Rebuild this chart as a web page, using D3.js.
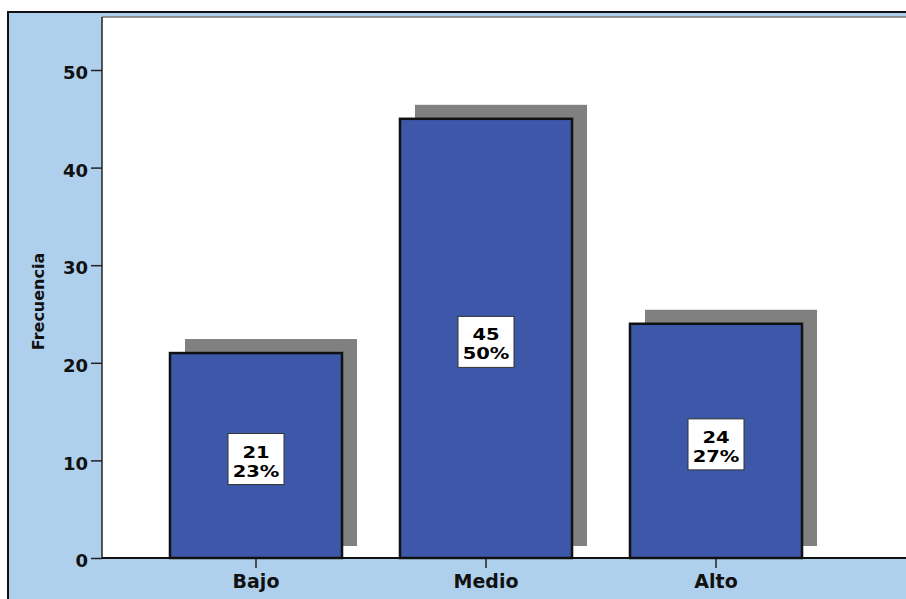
<!DOCTYPE html>
<html>
<head>
<meta charset="utf-8">
<script src="https://cdn.jsdelivr.net/npm/d3@7"></script>
<style>
  html, body { margin: 0; padding: 0; background: #ffffff; }
  svg { display: block; font-family: "DejaVu Sans", sans-serif; }
</style>
</head>
<body>
<div id="chart"></div>
<script>
const categories = ["Bajo", "Medio", "Alto"];
const counts = [21, 45, 24];
const percents = ["23%", "50%", "27%"];
const yTicks = [0, 10, 20, 30, 40, 50];
const yLabel = "Frecuencia";

(function () {
    const W = 906, H = 599;
    const plot = { left: 102, top: 17, bottom: 558 };
    const font = "'DejaVu Sans', sans-serif";

    const svg = d3.select("#chart")
        .append("svg")
        .attr("width", W)
        .attr("height", H);

    // outer light blue frame
    svg.append("rect")
        .attr("x", 8).attr("y", 12)
        .attr("width", W).attr("height", H)
        .attr("fill", "#aed0ed")
        .attr("stroke", "#111")
        .attr("stroke-width", 2);

    // plot area
    svg.append("rect")
        .attr("x", plot.left).attr("y", plot.top)
        .attr("width", W - plot.left + 2).attr("height", plot.bottom - plot.top)
        .attr("fill", "#fff");
    svg.append("line")
        .attr("x1", plot.left).attr("x2", W)
        .attr("y1", plot.top).attr("y2", plot.top)
        .attr("stroke", "#777").attr("stroke-width", 1.5);

    const x = d3.scaleBand()
        .domain(categories)
        .range([141, 831])
        .paddingInner(0.252)
        .paddingOuter(0.126);

    const y = d3.scaleLinear()
        .domain([0, 50])
        .range([plot.bottom, 70]);

    const data = categories.map((c, i) => ({ cat: c, n: counts[i], pct: percents[i] }));

    // shadows
    svg.selectAll(".shadow")
        .data(data)
        .join("rect")
        .attr("class", "shadow")
        .attr("x", d => x(d.cat) + 15)
        .attr("y", d => y(d.n) - 14)
        .attr("width", x.bandwidth())
        .attr("height", d => y(0) - y(d.n) + 2)
        .attr("fill", "#808080");

    // bars
    svg.selectAll(".bar")
        .data(data)
        .join("rect")
        .attr("class", "bar")
        .attr("x", d => x(d.cat))
        .attr("y", d => y(d.n))
        .attr("width", x.bandwidth())
        .attr("height", d => y(0) - y(d.n))
        .attr("fill", "#3d57a9")
        .attr("stroke", "#111")
        .attr("stroke-width", 2.5);

    // value boxes
    const boxes = svg.selectAll(".lab")
        .data(data)
        .join("g")
        .attr("class", "lab")
        .attr("transform", d => `translate(${x(d.cat) + x.bandwidth() / 2},${(y(d.n) + y(0)) / 2 + 3})`);

    boxes.append("rect")
        .attr("x", -28).attr("y", -25)
        .attr("width", 56).attr("height", 51)
        .attr("fill", "#fff")
        .attr("stroke", "#333")
        .attr("stroke-width", 1);

    boxes.append("text")
        .attr("text-anchor", "middle")
        .attr("transform", "translate(0,-1) scale(1.22,1)")
        .style("font-size", "16px")
        .style("font-weight", "bold")
        .text(d => d.n);

    boxes.append("text")
        .attr("text-anchor", "middle")
        .attr("transform", "translate(0,18) scale(1.22,1)")
        .style("font-size", "16px")
        .style("font-weight", "bold")
        .text(d => d.pct);

    // y axis
    const yAxis = svg.append("g")
        .attr("transform", `translate(${plot.left},0)`)
        .call(d3.axisLeft(y).tickValues(yTicks).tickSize(11).tickPadding(3));
    yAxis.select(".domain").remove();
    yAxis.selectAll("line").attr("stroke", "#222").attr("stroke-width", 1.5);
    yAxis.selectAll("text")
        .attr("fill", "#111")
        .attr("dy", "0.48em")
        .style("font-size", "18px")
        .style("font-weight", "bold")
        .style("font-family", font);
    svg.append("line")
        .attr("x1", plot.left).attr("x2", plot.left)
        .attr("y1", plot.top).attr("y2", plot.bottom)
        .attr("stroke", "#222").attr("stroke-width", 1.5);

    // x axis
    const xAxis = svg.append("g")
        .attr("transform", `translate(0,${plot.bottom})`)
        .call(d3.axisBottom(x).tickSize(10).tickPadding(7));
    xAxis.select(".domain").remove();
    xAxis.selectAll("line").attr("stroke", "#222").attr("stroke-width", 1.5);
    xAxis.selectAll("text")
        .attr("fill", "#111")
        .style("font-size", "19px")
        .style("font-weight", "bold")
        .style("font-family", font);
    svg.append("line")
        .attr("x1", plot.left).attr("x2", W)
        .attr("y1", plot.bottom).attr("y2", plot.bottom)
        .attr("stroke", "#111").attr("stroke-width", 2);

    svg.append("text")
        .attr("transform", `translate(44,${(plot.top + plot.bottom) / 2 + 14}) rotate(-90)`)
        .attr("text-anchor", "middle")
        .attr("fill", "#111")
        .style("font-size", "16px")
        .style("font-weight", "bold")
        .style("font-family", font)
        .text(yLabel);
})();
</script>
</body>
</html>
